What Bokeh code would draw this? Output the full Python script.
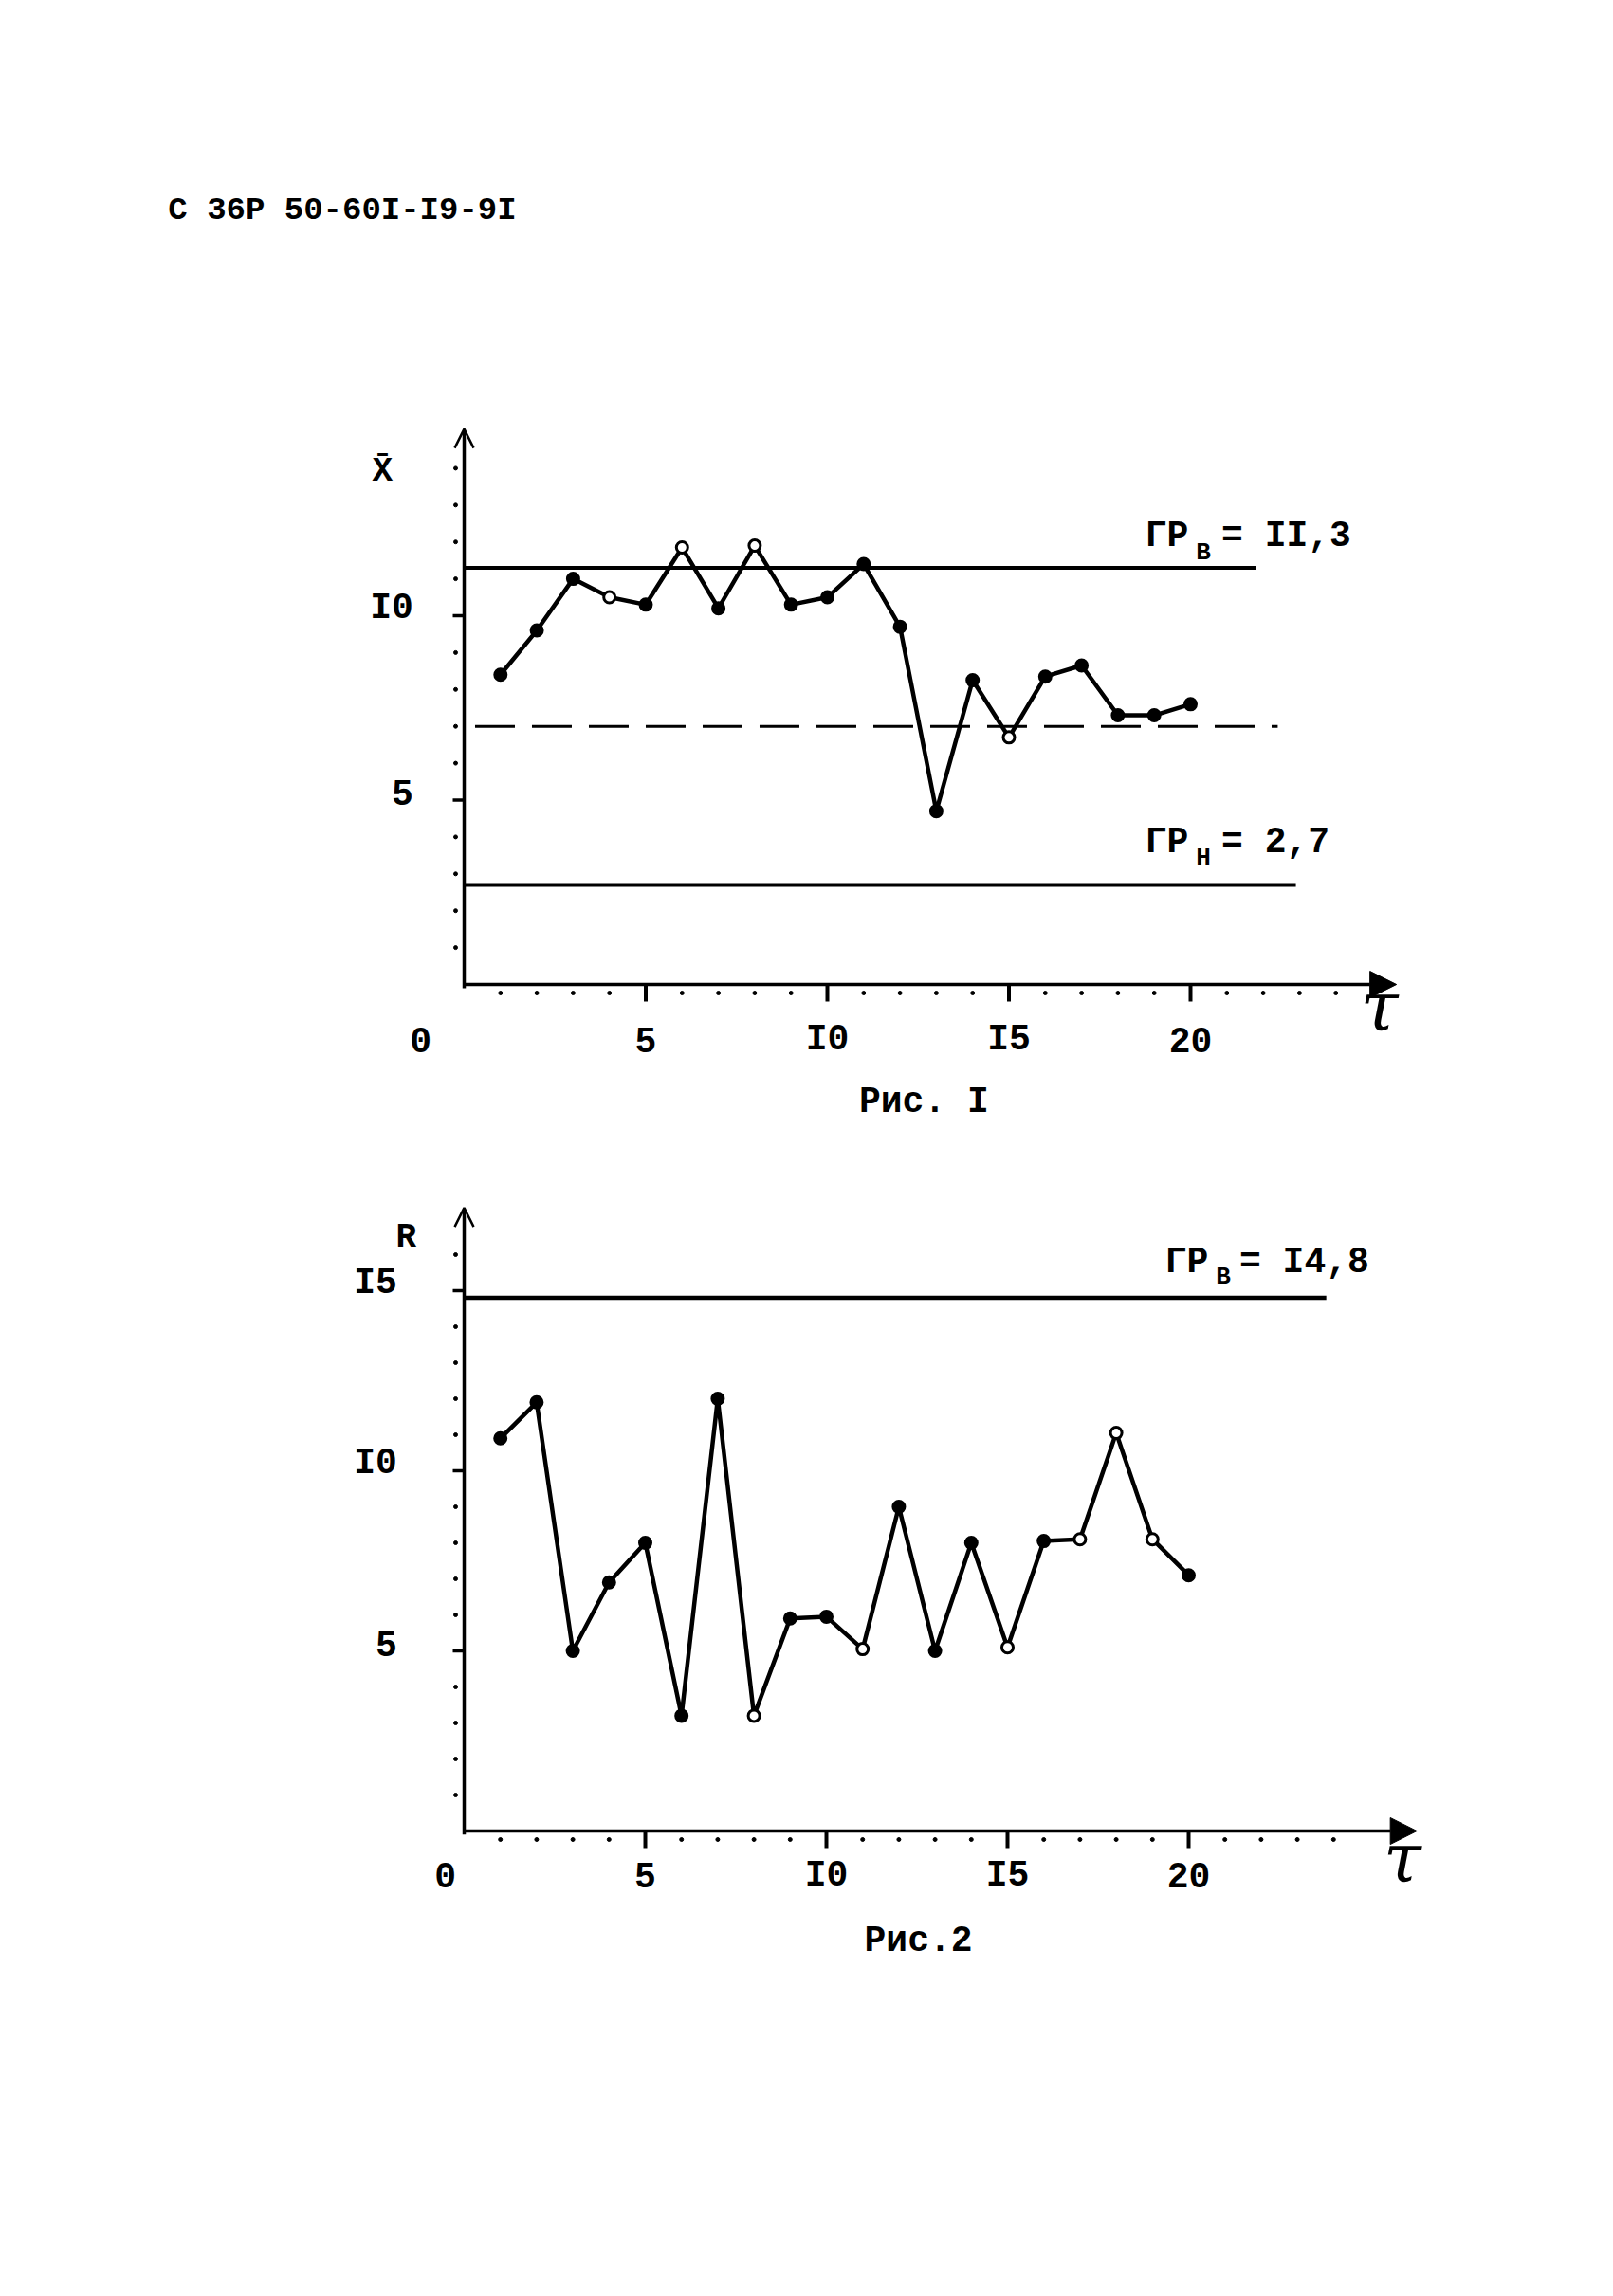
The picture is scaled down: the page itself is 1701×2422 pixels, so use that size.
from bokeh.plotting import figure
from bokeh.layouts import column
from bokeh.models import Label, Arrow, NormalHead, OpenHead, ColumnDataSource
from bokeh.embed import file_html
from bokeh.resources import INLINE
from bokeh.core.properties import value

# ---------------- data ----------------
header = "С 36Р 50-60I-I9-9I"

tau = [1, 2, 3, 4, 5, 6, 7, 8, 9, 10, 11, 12, 13, 14, 15, 16, 17, 18, 19, 20]

# Fig. 1 : sample means
xbar = [8.4, 9.6, 11.0, 10.5, 10.3, 11.85, 10.2, 11.9, 10.3, 10.5,
        11.4, 9.7, 4.7, 8.25, 6.7, 8.35, 8.65, 7.3, 7.3, 7.6]
xbar_hollow = [4, 6, 8, 15]
xbar_upper = 11.3
xbar_lower = 2.7
xbar_center = 7.0
xbar_upper_text = "= II,3"
xbar_lower_text = "= 2,7"

# Fig. 2 : ranges
r_vals = [10.9, 11.9, 5.0, 6.9, 8.0, 3.2, 12.0, 3.2, 5.9, 5.95,
          5.05, 9.0, 5.0, 8.0, 5.1, 8.05, 8.1, 11.05, 8.1, 7.1]
r_hollow = [8, 11, 15, 17, 18, 19]
r_upper = 14.8
r_upper_text = "= I4,8"

x_major = [5, 10, 15, 20]
x_major_labels = ["5", "I0", "I5", "20"]
x_minor = [1, 2, 3, 4, 6, 7, 8, 9, 11, 12, 13, 14, 16, 17, 18, 19, 21, 22, 23, 24]
y1_major = [5, 10]
y1_major_labels = ["5", "I0"]
y1_minor = [1, 2, 3, 4, 6, 7, 8, 9, 11, 12, 13, 14]
y2_major = [5, 10, 15]
y2_major_labels = ["5", "I0", "I5"]
y2_minor = [1, 2, 3, 4, 6, 7, 8, 9, 11, 12, 13, 14, 16]

FONT = "Liberation Mono"
FS = "38px"
W, H = 1685, 1200


def make_fig(origin_x, origin_y, ux, uy):
    """origin_x/origin_y: canvas pixel position of data (0,0); ux/uy: pixels per unit."""
    xr = (-origin_x / ux, (W - origin_x) / ux)
    yr = ((origin_y - H) / uy, origin_y / uy)
    p = figure(width=W, height=H, x_range=xr, y_range=yr, title=None,
               output_backend="svg", toolbar_location=None,
               x_axis_location=None, y_axis_location=None,
               min_border=0, min_border_left=0, min_border_right=0,
               min_border_top=0, min_border_bottom=0)
    p.outline_line_color = None
    p.grid.visible = False
    p.background_fill_color = "white"
    p.border_fill_color = "white"
    return p


def axes(p, x_end, y_end, ymaj, ylab, ymin, ylab_x, xlab_y, ux, uy):
    # axis lines with arrow heads
    p.add_layout(Arrow(end=NormalHead(size=28, fill_color="black", line_color="black"),
                       x_start=0, y_start=0, x_end=x_end, y_end=0,
                       line_width=3.5, line_color="black"))
    p.add_layout(Arrow(end=OpenHead(size=20, line_width=2.5, line_color="black"),
                       x_start=0, y_start=-0.1, x_end=0, y_end=y_end,
                       line_width=3.5, line_color="black"))
    # x ticks
    p.segment(x0=x_major, x1=x_major, y0=[0] * len(x_major), y1=[-18 / uy] * len(x_major),
              line_width=4, line_color="black")
    p.scatter(x=x_minor, y=[-9 / uy] * len(x_minor), size=4, marker="circle",
              fill_color="black", line_color="black")
    p.text(x=x_major, y=[xlab_y] * len(x_major), text=x_major_labels,
           text_font=value(FONT), text_font_size=FS, text_font_style="bold",
           text_align="center", text_baseline="middle", text_color="black")
    # y ticks
    p.segment(x0=[0] * len(ymaj), x1=[-12 / ux] * len(ymaj), y0=ymaj, y1=ymaj,
              line_width=3.5, line_color="black")
    p.scatter(x=[-9 / ux] * len(ymin), y=ymin, size=4, marker="circle",
              fill_color="black", line_color="black")
    p.text(x=[ylab_x] * len(ymaj), y=[v + 8 / uy for v in ymaj], text=ylab,
           text_font=value(FONT), text_font_size=FS, text_font_style="bold",
           text_align="right", text_baseline="middle", text_color="black")


def lab(p, x, y, text, size=FS, align="left", baseline="middle", font=FONT, style="bold"):
    p.add_layout(Label(x=x, y=y, text=text, text_font=font, text_font_size=size,
                       text_font_style=style, text_align=align, text_baseline=baseline,
                       text_color="black"))


def series(p, xs, ys, hollow):
    fills = ["white" if t in hollow else "black" for t in xs]
    src = ColumnDataSource(dict(x=xs, y=ys, f=fills))
    p.line("x", "y", source=src, line_width=4.5, line_color="black")
    p.scatter("x", "y", source=src, size=12, marker="circle", fill_color="f",
              line_color="black", line_width=3)


# ---------------- Fig. 1 ----------------
UX1, UY1 = 38.3, 38.9
p1 = make_fig(489, 1038, UX1, UY1)
axes(p1, 25.67, 15.06, y1_major, y1_major_labels, y1_minor, -1.4, -1.5, UX1, UY1)
p1.segment(x0=0, x1=21.8, y0=xbar_upper, y1=xbar_upper, line_width=4, line_color="black")
p1.segment(x0=0, x1=22.9, y0=xbar_lower, y1=xbar_lower, line_width=4, line_color="black")
p1.segment(x0=0.3, x1=22.4, y0=xbar_center, y1=xbar_center, line_width=3,
           line_color="black", line_dash="42 18")
series(p1, tau, xbar, xbar_hollow)
lab(p1, -8.15, 20.98, header, size="34px")
lab(p1, -2.25, 13.9, "X̄", size="36px", align="center")
lab(p1, -1.2, -1.5, "0", align="center")
lab(p1, 25.2, -0.6, "τ", size="72px", align="center", font="DejaVu Serif", style="italic")
lab(p1, 18.75, 12.16, "ГР")
lab(p1, 20.15, 11.72, "В", size="26px")
lab(p1, 20.85, 12.16, xbar_upper_text)
lab(p1, 18.75, 3.86, "ГР")
lab(p1, 20.15, 3.42, "Н", size="26px")
lab(p1, 20.85, 3.86, xbar_lower_text)
lab(p1, 12.66, -3.2, "Рис. I", align="center")

# ---------------- Fig. 2 ----------------
UX2, UY2 = 38.2, 38.0
p2 = make_fig(489, 731, UX2, UY2)
axes(p2, 26.3, 17.3, y2_major, y2_major_labels, y2_minor, -1.85, -1.23, UX2, UY2)
p2.segment(x0=0, x1=23.8, y0=r_upper, y1=r_upper, line_width=4.5, line_color="black")
series(p2, tau, r_vals, r_hollow)
lab(p2, -1.6, 16.47, "R", size="36px", align="center")
lab(p2, -0.52, -1.23, "0", align="center")
lab(p2, 25.9, -0.75, "τ", size="72px", align="center", font="DejaVu Serif", style="italic")
lab(p2, 19.35, 15.8, "ГР")
lab(p2, 20.75, 15.38, "В", size="26px")
lab(p2, 21.4, 15.8, r_upper_text)
lab(p2, 12.54, -3.05, "Рис.2", align="center")

layout = column(p1, p2, spacing=0)
open("out.html", "w").write(file_html(layout, INLINE))
